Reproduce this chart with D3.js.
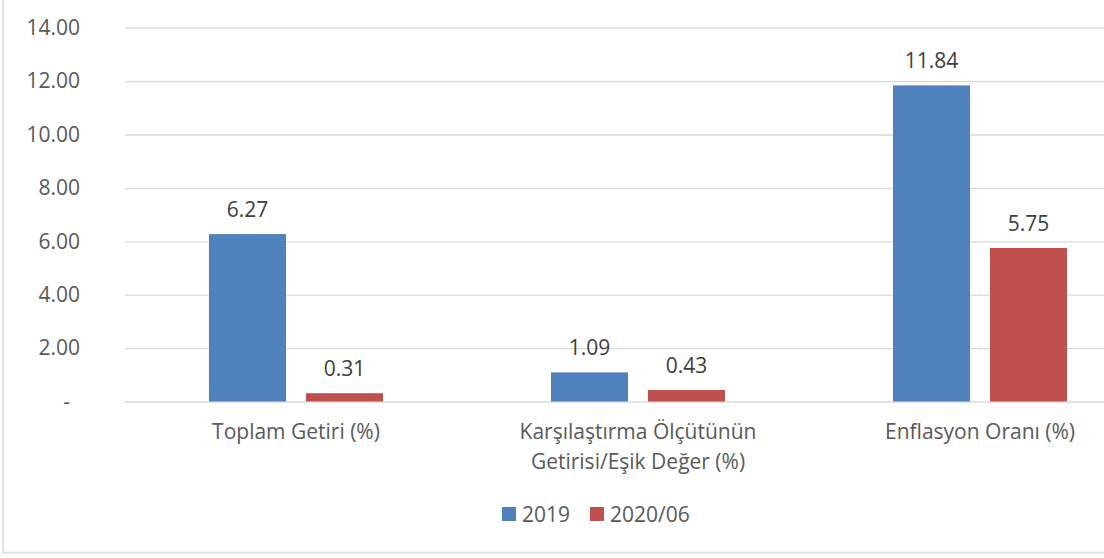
<!DOCTYPE html>
<html lang="tr">
  <head>
    <meta charset="UTF-8" />
    <title>Getiri Karşılaştırması</title>
    <script src="https://d3js.org/d3.v7.min.js"></script>
    <style>
      body {
        margin: 0;
        background-color: #fff;
        font-family: "Open Sans", sans-serif;
      }
      .tick text {
        fill: #595959;
      }
      .value-label {
        text-anchor: middle;
        fill: #404040;
      }
    </style>
  </head>
  <body>
    <div id="chart"></div>
    <script>
      // Data
      const categories = [
        "Toplam Getiri (%)",
        "Karşılaştırma Ölçütünün\nGetirisi/Eşik Değer (%)",
        "Enflasyon Oranı (%)",
      ];
      const seriesNames = ["2019", "2020/06"];
      const values2019 = [6.27, 1.09, 11.84];
      const values2020 = [0.31, 0.43, 5.75];
      const yTicks = [0, 2, 4, 6, 8, 10, 12, 14];

      const colors = ["#4F81BD", "#C0504D"];
      const W = 1104,
        H = 558;

      // plot area (chart is cropped on the right)
      const plot = { left: 125, right: 1151, top: 27.7, bottom: 401.5 };

      const svg = d3
        .select("#chart")
        .append("svg")
        .attr("width", W)
        .attr("height", H);

      // chart border
      svg
        .append("rect")
        .attr("x", 3)
        .attr("y", -10)
        .attr("width", W + 20)
        .attr("height", 552.5 + 10)
        .attr("fill", "none")
        .attr("stroke", "#D9D9D9")
        .attr("stroke-width", 1.5);

      const x0 = d3
        .scaleBand()
        .domain(categories)
        .range([plot.left, plot.right])
        .padding(0);

      const x1 = d3
        .scaleBand()
        .domain(seriesNames)
        .range([0, x0.bandwidth()])
        .paddingInner(0.206)
        .paddingOuter(0.866);

      const y = d3
        .scaleLinear()
        .domain([0, 14])
        .range([plot.bottom, plot.top]);

      // gridlines
      svg
        .append("g")
        .attr("transform", `translate(${plot.left},0)`)
        .call(
          d3
            .axisLeft(y)
            .tickValues(yTicks)
            .tickSize(-(plot.right - plot.left))
            .tickFormat("")
        )
        .call((g) => g.select(".domain").remove())
        .call((g) =>
          g.selectAll("line").attr("stroke", "#D9D9D9").attr("stroke-width", 1.3)
        );

      // y axis labels
      svg
        .append("g")
        .attr("transform", `translate(${plot.left},0)`)
        .call(
          d3
            .axisLeft(y)
            .tickValues(yTicks)
            .tickSize(0)
            .tickPadding(45)
            .tickFormat((d) => (d === 0 ? "-" : d.toFixed(2)))
        )
        .call((g) => g.select(".domain").remove())
        .selectAll("text")
        .attr("font-family", "Open Sans")
        .attr("font-size", "21px")
        .attr("dx", (d) => (d === 0 ? -10 : 0));

      // bars
      const barData = [];
      categories.forEach((c, i) => {
        barData.push({ cat: c, series: seriesNames[0], value: values2019[i] });
        barData.push({ cat: c, series: seriesNames[1], value: values2020[i] });
      });
      const color = d3.scaleOrdinal().domain(seriesNames).range(colors);

      svg
        .selectAll(".bar")
        .data(barData)
        .enter()
        .append("rect")
        .attr("class", "bar")
        .attr("x", (d) => x0(d.cat) + x1(d.series))
        .attr("width", x1.bandwidth())
        .attr("y", (d) => y(d.value))
        .attr("height", (d) => y(0) - y(d.value))
        .attr("fill", (d) => color(d.series));

      // value labels
      svg
        .selectAll(".value-label")
        .data(barData)
        .enter()
        .append("text")
        .attr("class", "value-label")
        .attr("x", (d) => x0(d.cat) + x1(d.series) + x1.bandwidth() / 2)
        .attr("y", (d) => y(d.value) - 17)
        .attr("font-size", "21px")
        .text((d) => d.value.toFixed(2));

      // category labels
      const catLabels = svg
        .selectAll(".cat-label")
        .data(categories)
        .enter()
        .append("text")
        .attr("class", "cat-label")
        .attr("text-anchor", "middle")
        .attr("fill", "#595959")
        .attr("font-size", "21px")
        .attr("transform", (d) => `translate(${x0(d) + x0.bandwidth() / 2},439)`);

      catLabels
        .selectAll("tspan")
        .data((d) => d.split("\n"))
        .enter()
        .append("tspan")
        .attr("x", 0)
        .attr("dy", (d, i) => (i === 0 ? 0 : 30))
        .text((d) => d);

      // legend
      const legend = svg.append("g").attr("transform", "translate(502,507)");
      const legendX = [0, 88];
      seriesNames.forEach((s, i) => {
        const g = legend.append("g").attr("transform", `translate(${legendX[i]},0)`);
        g.append("rect")
          .attr("width", 14)
          .attr("height", 14)
          .attr("fill", color(s));
        g.append("text")
          .attr("x", 20)
          .attr("y", 15)
          .attr("fill", "#595959")
          .attr("font-size", "21px")
          .text(s);
      });
    </script>
  </body>
</html>
